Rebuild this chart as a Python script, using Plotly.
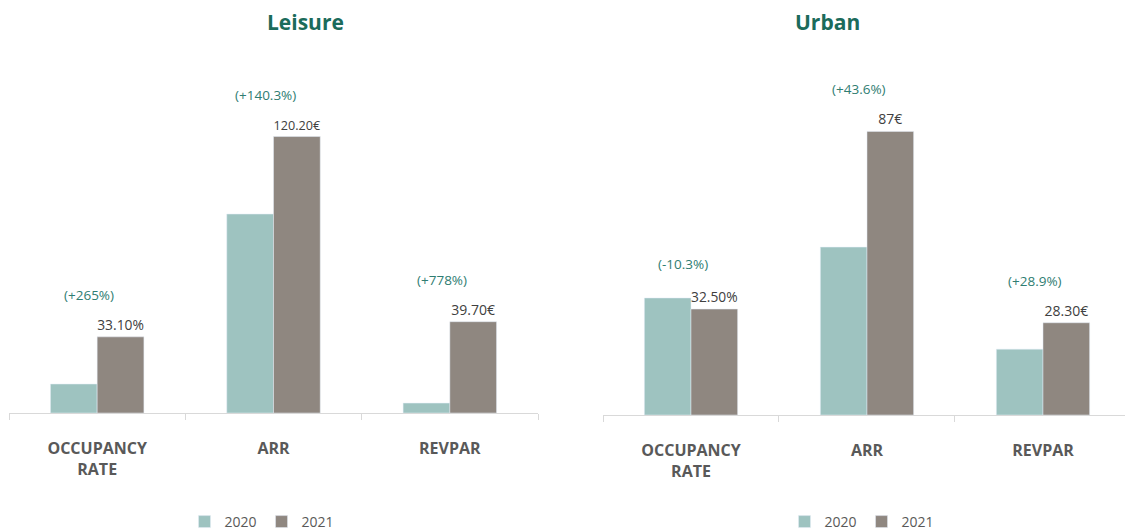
import plotly.graph_objects as go

categories = ["OCCUPANCY<br>RATE", "ARR", "REVPAR"]
years = ["2020", "2021"]

leisure_2020 = [12.6, 86.5, 4.3]
leisure_2021 = [33.1, 120.2, 39.7]
leisure_labels = ["33.10%", "120.20€", "39.70€"]
leisure_change = ["(+265%)", "(+140.3%)", "(+778%)"]

urban_2020 = [35.9, 51.5, 20.2]
urban_2021 = [32.5, 87.0, 28.3]
urban_labels = ["32.50%", "87€", "28.30€"]
urban_change = ["(-10.3%)", "(+43.6%)", "(+28.9%)"]

C2020 = "#9EC3C0"
C2021 = "#8F8780"
TEAL = "#2F7D72"
TITLE = "#1B6B5B"
FONT = "Open Sans"

W, H = 1125, 531

fig = go.Figure()

def add_panel(v20, v21, labels, xa, ya, legend):
    fig.add_trace(go.Bar(x=categories, y=v20, name=years[0], marker_color=C2020,
                         xaxis=xa, yaxis=ya, legend=legend, offsetgroup="a"))
    fig.add_trace(go.Bar(x=categories, y=v21, name=years[1], marker_color=C2021,
                         xaxis=xa, yaxis=ya, legend=legend, offsetgroup="b",
                         text=labels, textposition="outside", cliponaxis=False,
                         textfont=dict(size=14, color="#404040", family=FONT)))

add_panel(leisure_2020, leisure_2021, leisure_labels, "x", "y", "legend")
add_panel(urban_2020, urban_2021, urban_labels, "x2", "y2", "legend2")

def add_changes(changes, v20, v21, xref, yref):
    for c, a, b, t in zip(categories, v20, v21, changes):
        fig.add_annotation(x=c, y=max(a, b), xref=xref, yref=yref, text=t,
                           showarrow=False, yshift=42 if b >= a else 34, xshift=-8,
                           font=dict(size=13.5, color=TEAL, family=FONT))

add_changes(leisure_change, leisure_2020, leisure_2021, "x", "y")
add_changes(urban_change, urban_2020, urban_2021, "x2", "y2")

top_px = 60
l_base, u_base = 413, 415
axis_common = dict(showgrid=False, zeroline=False, showticklabels=False, showline=False)
xcommon = dict(type="category", showgrid=False, showline=True, linecolor="#D9D9D9",
               linewidth=1, ticks="outside", tickcolor="#D9D9D9", ticklen=6,
               tickson="boundaries", ticklabelstandoff=21, automargin=False,
               tickfont=dict(size=16, color="#595959", family=FONT, weight="bold"))

legend_common = dict(orientation="h", y=(H - 522) / H, yanchor="middle", xanchor="center",
                     font=dict(size=14, color="#595959", family=FONT), itemwidth=30,
                     bgcolor="rgba(0,0,0,0)")

fig.update_layout(
    width=W, height=H,
    margin=dict(l=0, r=0, t=0, b=0, autoexpand=False),
    paper_bgcolor="white", plot_bgcolor="white",
    barmode="group", bargap=0.47, bargroupgap=0,
    font=dict(family=FONT),
    xaxis=dict(domain=[9 / W, 538 / W], range=[-0.5, 2.5], anchor="y", **xcommon),
    xaxis2=dict(domain=[603 / W, 1.0], range=[-0.5, 2.466], anchor="y2", **xcommon),
    yaxis=dict(domain=[(H - l_base) / H, (H - top_px) / H], range=[0, (l_base - top_px) / 2.3],
               anchor="x", automargin=False, **axis_common),
    yaxis2=dict(domain=[(H - u_base) / H, (H - top_px) / H], range=[0, (u_base - top_px) / 3.26],
                anchor="x2", automargin=False, **axis_common),
    legend=dict(x=262 / W, **legend_common),
    legend2=dict(x=862 / W, **legend_common),
    showlegend=True,
)

fig.add_annotation(text="<b>Leisure</b>", x=265 / W, y=(H - 22) / H, xref="paper", yref="paper",
                   yanchor="middle", showarrow=False, font=dict(size=21, color=TITLE, family=FONT))
fig.add_annotation(text="<b>Urban</b>", x=862 / W, y=(H - 22) / H, xref="paper", yref="paper",
                   yanchor="middle", showarrow=False, font=dict(size=21, color=TITLE, family=FONT))

fig.write_html("out.html")
